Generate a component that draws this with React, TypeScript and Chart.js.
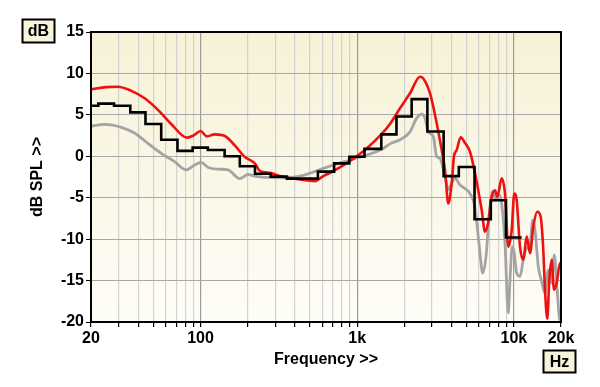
import React, { useEffect, useRef } from 'react';
import { Chart, registerables } from 'chart.js';

Chart.register(...registerables);

// Red curve (frequency Hz, dB)
const redFreq = [20, 25, 29.7, 36.2, 44, 53.5, 65, 82, 91, 100, 110, 123, 143, 165, 191, 222, 240, 278, 330, 432, 538, 608, 704, 900, 1150, 1434, 1620, 1877, 2173, 2518, 2642, 2917, 3218, 3464, 3636, 3817, 4013, 4150, 4318, 4579, 4878, 5250, 5650, 6082, 6236, 6546, 6872, 7224, 7582, 7842, 8364, 8780, 9216, 9688, 10064, 10426, 10944, 11488, 12080, 12678, 13308, 14114, 14836, 15416, 15808, 16350, 16840, 17444, 18048, 18778, 19704, 20000];
const redDb = [8.1, 8.35, 8.4, 7.9, 7.0, 5.6, 3.9, 2.25, 2.55, 3.05, 2.4, 2.65, 2.45, 1.35, -0.05, -0.85, -1.8, -2.0, -2.45, -2.8, -3.0, -2.4, -1.8, -0.55, 0.95, 2.7, 3.9, 5.8, 7.6, 9.6, 9.4, 7.6, 4.0, 0.75, -1.65, -5.7, -3.25, 0.0, 0.75, 2.3, 1.6, 0.55, -2.05, -5.3, -6.5, -9.1, -7.9, -4.9, -4.1, -4.9, -2.65, -4.5, -10.9, -8.9, -4.5, -5.3, -10.9, -12.5, -9.7, -11.7, -8.5, -6.7, -7.3, -11.3, -16.1, -19.6, -14.9, -12.5, -16.1, -15.3, -12.9, -13.5];

// Gray curve (frequency Hz, dB)
const grayFreq = [20, 24.5, 31.2, 38, 46.2, 56.2, 68.4, 81.2, 91.8, 101, 112, 129, 150, 178, 201, 222, 234, 265, 338, 432, 552, 704, 900, 1150, 1468, 1620, 1877, 2173, 2398, 2582, 2710, 2844, 3060, 3218, 3378, 3636, 3817, 4013, 4210, 4532, 4878, 5250, 5650, 6022, 6328, 6642, 6972, 7328, 7694, 8076, 8364, 8780, 9216, 9450, 9776, 10064, 10426, 10944, 11488, 12080, 12678, 13192, 13646, 14326, 15060, 15808, 16596, 17444, 18126, 18778, 19504, 20000];
const grayDb = [3.65, 3.85, 3.5, 2.8, 1.55, 0.35, -0.65, -1.65, -1.05, -0.75, -1.35, -1.55, -1.65, -2.7, -2.2, -2.4, -2.45, -2.55, -2.6, -2.4, -1.75, -1.05, -0.45, 0.15, 0.95, 1.5, 2.0, 2.95, 4.6, 5.1, 4.6, 2.95, 2.4, -0.05, -0.25, -2.45, -4.05, -3.25, -2.65, -3.45, -3.9, -4.5, -6.2, -10.9, -14.1, -12.1, -6.9, -4.25, -5.3, -4.65, -5.7, -10.5, -18.9, -14.9, -10.9, -11.7, -14.1, -14.5, -12.5, -11.1, -10.9, -7.7, -8.9, -13.3, -15.1, -16.5, -13.7, -15.3, -11.9, -15.3, -19.4, -20];

// Black third-octave band levels
const bandCenters = [20, 25, 31.5, 40, 50, 63, 80, 100, 125, 160, 200, 250, 315, 400, 500, 630, 800, 1000, 1250, 1600, 2000, 2500, 3150, 4000, 5000, 6300, 8000, 10000];
const bandLevels = [6.1, 6.35, 6.1, 5.3, 3.9, 2.0, 0.65, 1.05, 0.75, 0.0, -1.2, -2.1, -2.45, -2.7, -2.7, -1.85, -0.85, -0.05, 0.9, 2.65, 4.8, 6.9, 3.0, -2.4, -1.3, -7.6, -5.3, -9.8];

// Axis ticks
const xGridFreqs = [20, 30, 40, 50, 60, 70, 80, 90, 100, 200, 300, 400, 500, 600, 700, 800, 900, 1000, 2000, 3000, 4000, 5000, 6000, 7000, 8000, 9000, 10000, 20000];
const xTickLabels: Record<number, string> = { 20: '20', 100: '100', 1000: '1k', 10000: '10k', 20000: '20k' };
const xMajor = [100, 1000, 10000];
const yMin = -20;
const yMax = 15;
const yStep = 5;

const FONT = '"Liberation Sans", Arial, Helvetica, sans-serif';

const decorPlugin = {
  id: 'decor',
  beforeDraw(chart: any) {
    const { ctx, chartArea: a } = chart;
    const g = ctx.createLinearGradient(0, a.top, 0, a.bottom);
    g.addColorStop(0, '#f7f1d6');
    g.addColorStop(1, '#fefdf7');
    ctx.save();
    ctx.fillStyle = g;
    ctx.fillRect(a.left, a.top, a.right - a.left, a.bottom - a.top);
    ctx.restore();
  },
  afterDraw(chart: any) {
    const { ctx, chartArea: a } = chart;
    ctx.save();
    ctx.strokeStyle = '#000';
    ctx.lineWidth = 2;
    ctx.strokeRect(a.left, a.top, a.right - a.left, a.bottom - a.top);
    const box = (cx: number, cy: number, w: number, h: number, text: string) => {
      ctx.fillStyle = '#f8f4dc';
      ctx.fillRect(cx - w / 2, cy - h / 2, w, h);
      ctx.strokeStyle = '#000';
      ctx.lineWidth = 2;
      ctx.strokeRect(cx - w / 2, cy - h / 2, w, h);
      ctx.fillStyle = '#000';
      ctx.font = `bold 16px ${FONT}`;
      ctx.textAlign = 'center';
      ctx.textBaseline = 'middle';
      ctx.fillText(text, cx, cy + 1);
    };
    box(38.5, 31, 32, 23, 'dB');
    box(559.5, 361.5, 32, 22, 'Hz');
    ctx.restore();
  },
};

export default function App() {
  const ref = useRef<HTMLCanvasElement | null>(null);
  useEffect(() => {
    if (!ref.current) return;
    const bandData = bandCenters.map((c, i) => ({ x: Math.max(20, c * Math.pow(2, -1 / 6)), y: bandLevels[i] }));
    bandData.push({ x: bandCenters[bandCenters.length - 1] * Math.pow(2, 1 / 6), y: bandLevels[bandLevels.length - 1] });
    const chart = new Chart(ref.current, {
      type: 'line',
      data: {
        datasets: [
          {
            label: 'black',
            data: bandData,
            borderColor: '#000',
            borderWidth: 2.6,
            stepped: true,
            pointRadius: 0,
            fill: false,
            order: 0,
          },
          {
            label: 'red',
            data: redFreq.map((f, i) => ({ x: f, y: redDb[i] })),
            borderColor: '#ee1111',
            borderWidth: 2.6,
            cubicInterpolationMode: 'monotone',
            pointRadius: 0,
            fill: false,
            order: 1,
          },
          {
            label: 'gray',
            data: grayFreq.map((f, i) => ({ x: f, y: grayDb[i] })),
            borderColor: '#a4a4a4',
            borderWidth: 2.8,
            cubicInterpolationMode: 'monotone',
            pointRadius: 0,
            fill: false,
            order: 2,
          },
        ],
      },
      options: {
        animation: false,
        responsive: false,
        devicePixelRatio: 1,
        layout: { padding: { left: 0, top: 32, right: 39, bottom: 0 } },
        plugins: { legend: { display: false }, tooltip: { enabled: false } },
        scales: {
          x: {
            type: 'logarithmic',
            min: 20,
            max: 20000,
            afterBuildTicks: (scale: any) => {
              scale.ticks = xGridFreqs.map((v) => ({ value: v }));
            },
            afterFit: (scale: any) => {
              scale.height = 65;
            },
            ticks: {
              autoSkip: false,
              maxRotation: 0,
              minRotation: 0,
              color: '#000',
              padding: 2,
              font: { family: FONT, size: 16, weight: 'bold' },
              callback: (v: any) => xTickLabels[Number(v)] ?? '',
            },
            grid: {
              color: (c: any) => (xMajor.includes(c.tick?.value) ? '#9c9c9c' : '#d2d2d2'),
              lineWidth: 1.2,
              tickLength: 5,
              tickColor: '#000',
            },
            border: { display: false },
            title: {
              display: true,
              text: 'Frequency >>',
              color: '#000',
              font: { family: FONT, size: 16, weight: 'bold' },
              padding: { top: 0, bottom: 18 },
            },
          },
          y: {
            min: yMin,
            max: yMax,
            afterFit: (scale: any) => {
              scale.width = 91;
            },
            ticks: {
              stepSize: yStep,
              color: '#000',
              padding: 2,
              font: { family: FONT, size: 16, weight: 'bold' },
            },
            grid: {
              color: '#a8a8a8',
              lineWidth: 1,
              tickLength: 5,
              tickColor: '#000',
            },
            border: { display: false },
            title: {
              display: true,
              text: 'dB SPL >>',
              color: '#000',
              font: { family: FONT, size: 16, weight: 'bold' },
              padding: { top: 28, bottom: 0 },
            },
          },
        },
      },
      plugins: [decorPlugin],
    } as any);
    return () => chart.destroy();
  }, []);
  return (
    <div style={{ position: 'absolute', left: 0, top: 0, width: 600, height: 387, background: '#fff' }}>
      <canvas ref={ref} width={600} height={387} />
    </div>
  );
}
